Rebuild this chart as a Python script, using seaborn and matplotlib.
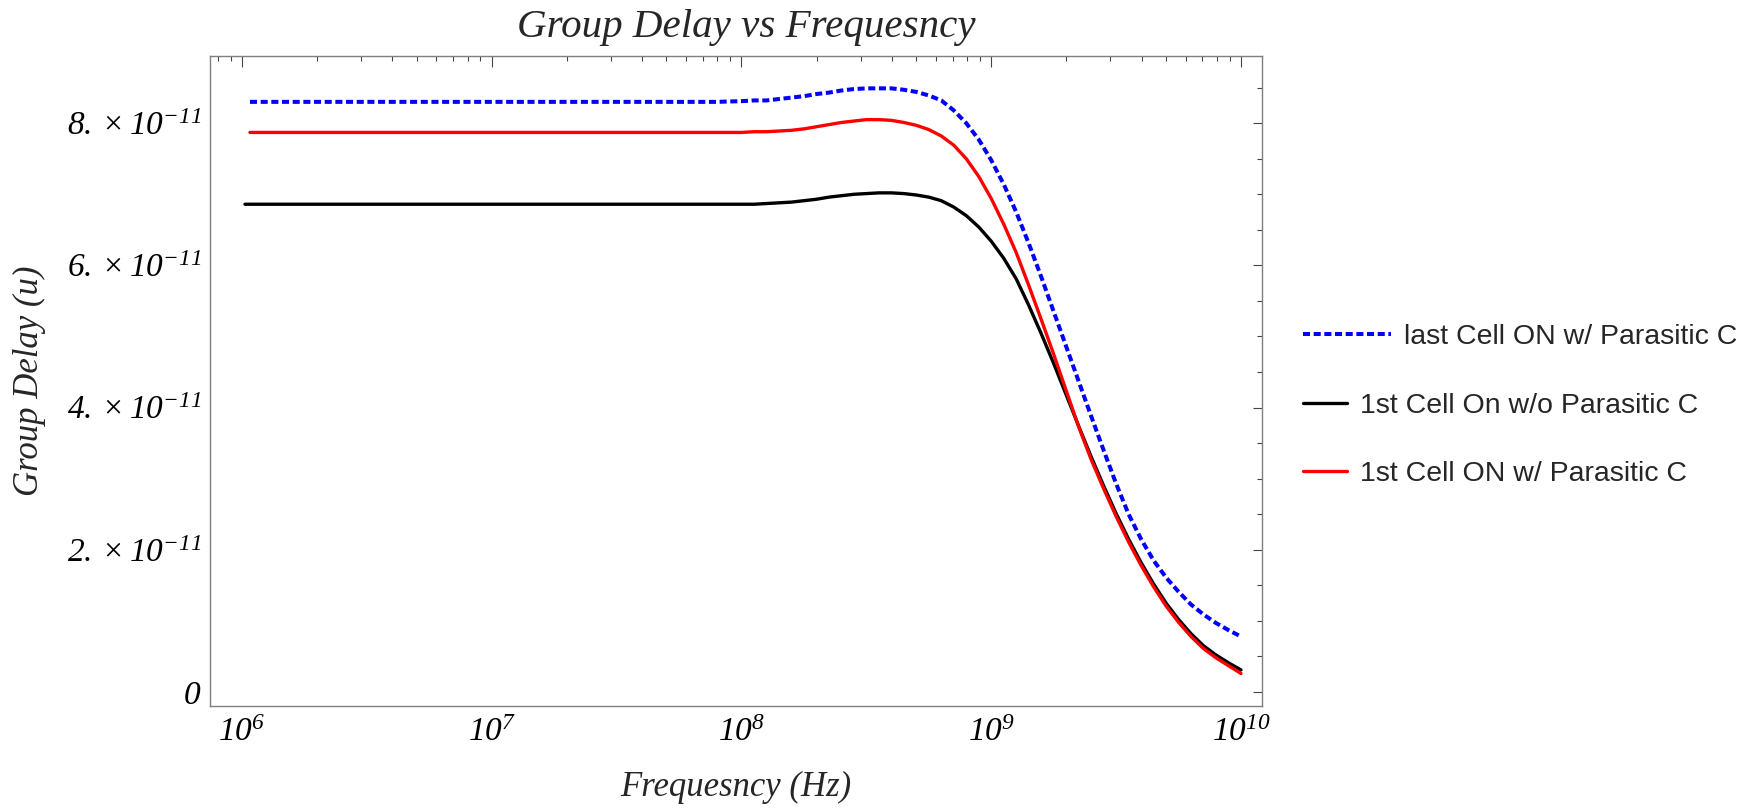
import numpy as np
import pandas as pd
import matplotlib
matplotlib.use("Agg")
import matplotlib.pyplot as plt
import seaborn as sns
from matplotlib.ticker import LogLocator, FixedLocator, FuncFormatter, NullFormatter
from matplotlib.legend_handler import HandlerLine2D

# ---------------- data (frequency as log10 exponent, delay in units of 1e-11 s) ----------------
exp_common = [8.00, 8.05, 8.10, 8.15, 8.20, 8.25, 8.30, 8.35, 8.40, 8.45,
              8.50, 8.55, 8.60, 8.65, 8.70, 8.75, 8.80, 8.85, 8.90, 8.95,
              9.00, 9.05, 9.10, 9.15, 9.20, 9.25, 9.30, 9.35, 9.40, 9.45,
              9.50, 9.55, 9.60, 9.65, 9.70, 9.75, 9.80, 9.85, 9.90, 9.95, 10.00]
exp_low_color = [6.032, 6.5, 7.0, 7.5, 7.8, 7.9]
exp_low_black = [6.012, 6.5, 7.0, 7.5, 7.8, 7.9]

last_on_parasitic = [8.30, 8.30, 8.30, 8.30, 8.30, 8.30,
                     8.31, 8.32, 8.32, 8.34, 8.36, 8.38, 8.41, 8.43, 8.46, 8.48,
                     8.49, 8.49, 8.49, 8.47, 8.44, 8.39, 8.32, 8.18, 8.00, 7.77,
                     7.48, 7.14, 6.75, 6.31, 5.84, 5.35, 4.86, 4.37, 3.88, 3.40,
                     2.93, 2.50, 2.15, 1.85, 1.61, 1.41, 1.23, 1.09, 0.97, 0.87, 0.78]
first_on_no_parasitic = [6.86, 6.86, 6.86, 6.86, 6.86, 6.86,
                         6.86, 6.86, 6.87, 6.88, 6.89, 6.91, 6.93, 6.96, 6.98, 7.00,
                         7.01, 7.02, 7.02, 7.01, 6.99, 6.96, 6.91, 6.82, 6.70, 6.54,
                         6.34, 6.10, 5.81, 5.44, 5.04, 4.62, 4.18, 3.74, 3.31, 2.90,
                         2.51, 2.15, 1.82, 1.52, 1.25, 1.02, 0.82, 0.65, 0.52, 0.41, 0.31]
first_on_parasitic = [7.87, 7.87, 7.87, 7.87, 7.87, 7.87,
                      7.87, 7.88, 7.88, 7.89, 7.90, 7.92, 7.95, 7.98, 8.01, 8.03,
                      8.05, 8.05, 8.04, 8.01, 7.97, 7.91, 7.82, 7.69, 7.50, 7.25,
                      6.94, 6.58, 6.18, 5.72, 5.24, 4.75, 4.24, 3.73, 3.27, 2.86,
                      2.47, 2.11, 1.78, 1.48, 1.21, 0.98, 0.78, 0.61, 0.48, 0.37, 0.26]

series_labels = ["last Cell ON w/ Parasitic C",
                 "1st Cell On w/o Parasitic C",
                 "1st Cell ON w/ Parasitic C"]
ytick_values = [0, 2, 4, 6, 8]          # in units of 1e-11
xtick_exponents = [6, 7, 8, 9, 10]

title_text = "Group Delay vs Frequesncy"
xlabel_text = "Frequesncy (Hz)"
ylabel_text = "Group Delay (u)"

# ---------------- style ----------------
sns.set_style("white")
plt.rcParams["font.family"] = ["Liberation Serif", "DejaVu Serif"]
plt.rcParams["mathtext.fontset"] = "custom"
plt.rcParams["mathtext.rm"] = "Liberation Serif:italic"
plt.rcParams["mathtext.it"] = "Liberation Serif:italic"
plt.rcParams["mathtext.bf"] = "Liberation Serif:italic:bold"

W, H = 1756, 808
fig = plt.figure(figsize=(W / 100, H / 100), dpi=100)
ax = fig.add_axes([210 / W, 1 - 706 / H, (1262 - 210) / W, (706 - 56) / H])

scale = 1e-11
df_c = pd.DataFrame({"f": 10 ** np.array(exp_low_color + exp_common)})
df_b = pd.DataFrame({"f": 10 ** np.array(exp_low_black + exp_common)})
df_c["blue"] = np.array(last_on_parasitic) * scale
df_c["red"] = np.array(first_on_parasitic) * scale
df_b["black"] = np.array(first_on_no_parasitic) * scale

sns.lineplot(data=df_c, x="f", y="blue", ax=ax, color=(0, 0, 1), lw=2.9,
             linestyle=(0, (1.75, 0.9)), label=series_labels[0], estimator=None)
sns.lineplot(data=df_b, x="f", y="black", ax=ax, color="black", lw=2.4,
             label=series_labels[1], estimator=None)
sns.lineplot(data=df_c, x="f", y="red", ax=ax, color=(1, 0, 0), lw=2.4,
             label=series_labels[2], estimator=None)

ax.set_xscale("log")
ax.set_xlim(10 ** 5.8719, 10 ** 10.0841)
ax.set_ylim(-0.197 * scale, 8.945 * scale)

# ticks
ax.xaxis.set_major_locator(FixedLocator([10.0 ** e for e in xtick_exponents]))
ax.xaxis.set_minor_locator(LogLocator(base=10, subs=np.arange(2, 10), numticks=50))
ax.xaxis.set_minor_formatter(NullFormatter())
ax.xaxis.set_major_formatter(FuncFormatter(lambda v, p: r"$10^{%d}$" % round(np.log10(v))))

ax.yaxis.set_major_locator(FixedLocator([v * scale for v in ytick_values]))
ax.yaxis.set_minor_locator(FixedLocator([v * 0.5 * scale for v in range(0, 18)]))


def yfmt(v, p):
    m = v / scale
    if abs(m) < 1e-9:
        return r"$0$"
    return r"$%d.\times10^{-11}$" % round(m)


ax.yaxis.set_major_formatter(FuncFormatter(yfmt))

tick_col = "#444444"
ax.tick_params(axis="both", which="both", direction="in", top=True, right=True,
               colors=tick_col, labelcolor="black", width=0.8)
ax.tick_params(axis="x", which="major", length=7.9, pad=8.5, labelsize=24)
ax.tick_params(axis="x", which="minor", length=3.6)
ax.tick_params(axis="y", which="major", length=6.5, pad=6, labelsize=24)
ax.tick_params(axis="y", which="minor", length=3.6)

for sp in ax.spines.values():
    sp.set_color("#7f7f7f")
    sp.set_linewidth(1.0)
    sp.set_visible(True)

# labels
ax.set_xlabel(xlabel_text, fontsize=25, style="italic", va="baseline")
ax.xaxis.set_label_coords(0.5, (706 - 796) / 650)
ax.set_ylabel(ylabel_text, fontsize=25, style="italic", va="center")
ax.yaxis.set_label_coords((29 - 210) / 1052, 0.5)

fig.text(746 / W, 1 - 37 / H, title_text, fontsize=29.5, style="italic",
         ha="center", va="baseline")


# legend with a longer dashed handle for the first entry
class LongHandler(HandlerLine2D):
    def __init__(self, factor, **kw):
        super().__init__(**kw)
        self.factor = factor

    def legend_artist(self, legend, orig_handle, fontsize, handlebox):
        handlebox.width = handlebox.width * self.factor
        return super().legend_artist(legend, orig_handle, fontsize, handlebox)


fs_leg = 20.5
fs_px = fs_leg * 100 / 72
handles, labels = ax.get_legend_handles_labels()
leg = ax.legend(handles, labels, loc="center left",
                bbox_to_anchor=(1303 / W, 1 - 405.75 / H), bbox_transform=fig.transFigure,
                frameon=False, borderpad=0, borderaxespad=0,
                prop={"family": "Liberation Sans", "size": fs_leg},
                handlelength=44 / fs_px, handletextpad=13 / fs_px, labelspacing=1.5,
                handler_map={handles[0]: LongHandler(88 / 44)})

fig.savefig("out.png", dpi=100)
